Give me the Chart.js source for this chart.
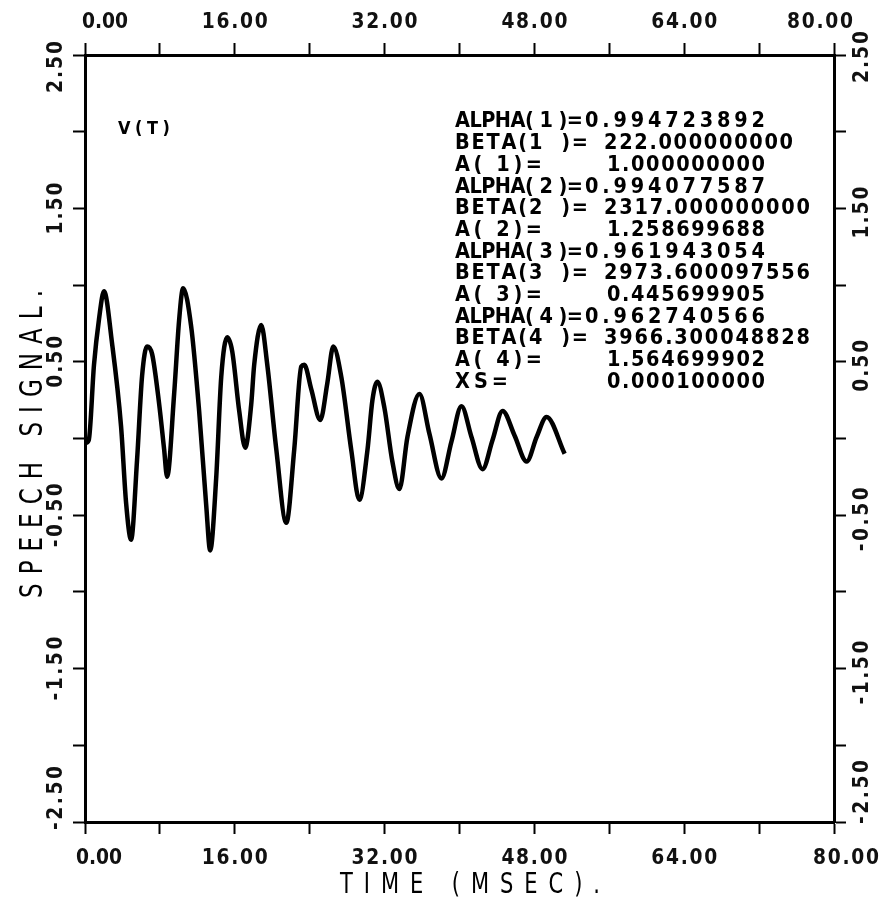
<!DOCTYPE html>
<html><head><meta charset="utf-8">
<script src="https://cdn.jsdelivr.net/npm/chart.js@4"></script>
<style>html,body{margin:0;padding:0;background:#fff;}canvas{display:block}</style>
</head><body>
<canvas id="c" width="882" height="904"></canvas>
<script>
// time in msec
const timeMs = [0, 0.4, 0.96, 1.5, 2.03, 2.89, 3.85, 4.39, 4.92, 5.56, 6.1, 6.63, 7.17, 7.91, 8.45, 8.77, 9.52, 10.05, 10.48, 11.34, 12.19, 12.94, 13.37, 14.01, 14.55, 15.19, 15.72, 16.47, 17.11, 17.75, 18.07, 18.82, 19.47, 20.43, 21.5, 22.35, 23.1, 23.42, 24.17, 25.13, 25.88, 26.52, 27.38, 28.45, 29.3, 30.16, 30.7, 31.23, 31.98, 32.83, 33.58, 34.44, 35.72, 36.79, 38.07, 39.14, 40.21, 41.28, 42.46, 43.53, 44.6, 45.88, 47.17, 48.24, 49.3, 51.23];
// speech signal values
const signal = [-0.03, -0.01, 0.48, 0.78, 0.96, 0.62, 0.08, -0.42, -0.66, -0.14, 0.41, 0.60, 0.55, 0.23, -0.07, -0.25, 0.29, 0.77, 0.98, 0.73, 0.18, -0.43, -0.73, -0.26, 0.40, 0.66, 0.57, 0.18, -0.06, 0.22, 0.48, 0.74, 0.48, -0.07, -0.55, -0.07, 0.47, 0.48, 0.32, 0.12, 0.36, 0.60, 0.40, -0.08, -0.40, -0.08, 0.25, 0.37, 0.20, -0.15, -0.33, 0.01, 0.29, 0.03, -0.26, -0.02, 0.21, 0.01, -0.20, -0.01, 0.18, 0.02, -0.15, 0.01, 0.14, -0.10];

const xTickValues = [0, 16, 32, 48, 64, 80];
const xTickLabels = ['0.00', '16.00', '32.00', '48.00', '64.00', '80.00'];
const yTickValues = [2.5, 1.5, 0.5, -0.5, -1.5, -2.5];
const yTickLabels = ['2.50', '1.50', '0.50', '-0.50', '-1.50', '-2.50'];

const paramLabels = ['ALPHA( 1 )=', 'BETA(1  )=', 'A( 1)=', 'ALPHA( 2 )=', 'BETA(2  )=', 'A( 2)=', 'ALPHA( 3 )=', 'BETA(3  )=', 'A( 3)=', 'ALPHA( 4 )=', 'BETA(4  )=', 'A( 4)=', 'XS='];
const paramValues = ['0.994723892', '222.000000000', '1.000000000', '0.994077587', '2317.000000000', '1.258699688', '0.961943054', '2973.600097556', '0.445699905', '0.962740566', '3966.300048828', '1.564699902', '0.000100000'];

const xTitle = 'TIME (MSEC).';
const yTitle = 'SPEECH SIGNAL.';
const seriesLabel = 'V(T)';

function spaced(ctx, text, x0, x1, yc, font, sx) {
  ctx.font = font;
  const ws = [...text].map(ch => ctx.measureText(ch).width * sx);
  const total = ws.reduce((a, b) => a + b, 0);
  const extra = text.length > 1 ? ((x1 - x0) - total) / (text.length - 1) : 0;
  let x = x0;
  ctx.textAlign = 'center';
  ctx.textBaseline = 'middle';
  for (let i = 0; i < text.length; i++) {
    const cx = x + ws[i] / 2;
    ctx.save();
    ctx.translate(cx, yc);
    ctx.scale(sx, 1);
    ctx.fillText(text[i], 0, 0);
    ctx.restore();
    x += ws[i] + extra;
  }
}
function spacedRot(ctx, text, cx, cy, len, font, sx) {
  ctx.save();
  ctx.translate(cx, cy);
  ctx.rotate(-Math.PI / 2);
  spaced(ctx, text, -len / 2, len / 2, 0, font, sx);
  ctx.restore();
}

const labelPlugin = {
  id: 'labels',
  afterDraw(chart) {
    const ctx = chart.ctx;
    const sx = chart.scales.x, sy = chart.scales.y;
    ctx.save();
    ctx.fillStyle = '#111';
    const tickFont = 'bold 22px "DejaVu Sans"';
    xTickValues.forEach((v, i) => {
      const p = sx.getPixelForValue(v);
      const txt = xTickLabels[i];
      const w = txt.length === 4 ? 46 : 66;
      let offT = 0, offB = 0;
      if (i === 0) { offT = 20; offB = 14; }
      if (i === xTickValues.length - 1) { offT = -14; offB = 12; }
      spaced(ctx, txt, p + offT - w / 2, p + offT + w / 2, 22, tickFont, 0.85);
      spaced(ctx, txt, p + offB - w / 2, p + offB + w / 2, 858, tickFont, 0.85);
    });
    yTickValues.forEach((v, i) => {
      const p = sy.getPixelForValue(v);
      const txt = yTickLabels[i];
      const w = txt.length === 4 ? 52 : 64;
      let offL = 0, offR = 4;
      if (i === 0) { offL = 12; offR = 2; }
      if (i === yTickValues.length - 1) { offL = -24; offR = -30; }
      spacedRot(ctx, txt, 56, p + offL, w, tickFont, 0.85);
      spacedRot(ctx, txt, 862, p + offR, w, tickFont, 0.85);
    });
    ctx.fillStyle = '#000';
    spacedRot(ctx, yTitle, 34, 444, 308, '32px "DejaVu Sans"', 0.72);
    spaced(ctx, xTitle, 340, 600, 886, '28px "DejaVu Sans"', 0.75);
    spaced(ctx, seriesLabel, 118, 170, 130, 'bold 17px "DejaVu Sans"', 0.95);
    const pf = 'bold 21px "DejaVu Sans"';
    paramLabels.forEach((lab, i) => {
      const y = 122 + 21.7 * i;
      let lEnd, v0, v1;
      const val = paramValues[i];
      if (lab.startsWith('ALPHA')) { lEnd = 583; v0 = 585; v1 = 765; }
      else if (lab.startsWith('BETA')) { lEnd = 588; v0 = 604; v1 = val.length > 13 ? 810 : 793; }
      else if (lab.startsWith('XS')) { lEnd = 508; v0 = 607; v1 = 765; }
      else { lEnd = 542; v0 = 607; v1 = 765; }
      spaced(ctx, lab, 455, lEnd, y, pf, 0.92);
      spaced(ctx, val, v0, v1, y, pf, 0.92);
    });
    ctx.restore();
  }
};

const axisCommon = {
  type: 'linear',
  grid: { drawOnChartArea: false, drawTicks: true, tickLength: 12, tickWidth: 2, tickColor: '#000' },
  border: { display: true, color: '#000', width: 3 }
};

new Chart(document.getElementById('c').getContext('2d'), {
  type: 'line',
  data: {
    datasets: [{
      data: timeMs.map((t, i) => ({ x: t, y: signal[i] })),
      borderColor: '#000',
      borderWidth: 4.5,
      pointRadius: 0,
      cubicInterpolationMode: 'monotone',
      fill: false
    }]
  },
  options: {
    responsive: false,
    animation: false,
    devicePixelRatio: 1,
    layout: { padding: 0 },
    plugins: { legend: { display: false }, tooltip: { enabled: false } },
    scales: {
      x: Object.assign({}, axisCommon, { position: 'bottom', min: 0, max: 80, ticks: { display: false, stepSize: 8 }, afterFit(s) { s.height = 82; } }),
      x2: Object.assign({}, axisCommon, { position: 'top', min: 0, max: 80, ticks: { display: false, stepSize: 8 }, afterFit(s) { s.height = 55; } }),
      y: Object.assign({}, axisCommon, { position: 'left', min: -2.5, max: 2.5, ticks: { display: false, stepSize: 0.5 }, afterFit(s) { s.width = 85; } }),
      y2: Object.assign({}, axisCommon, { position: 'right', min: -2.5, max: 2.5, ticks: { display: false, stepSize: 0.5 }, afterFit(s) { s.width = 48; } })
    }
  },
  plugins: [labelPlugin]
});
</script>
</body></html>
